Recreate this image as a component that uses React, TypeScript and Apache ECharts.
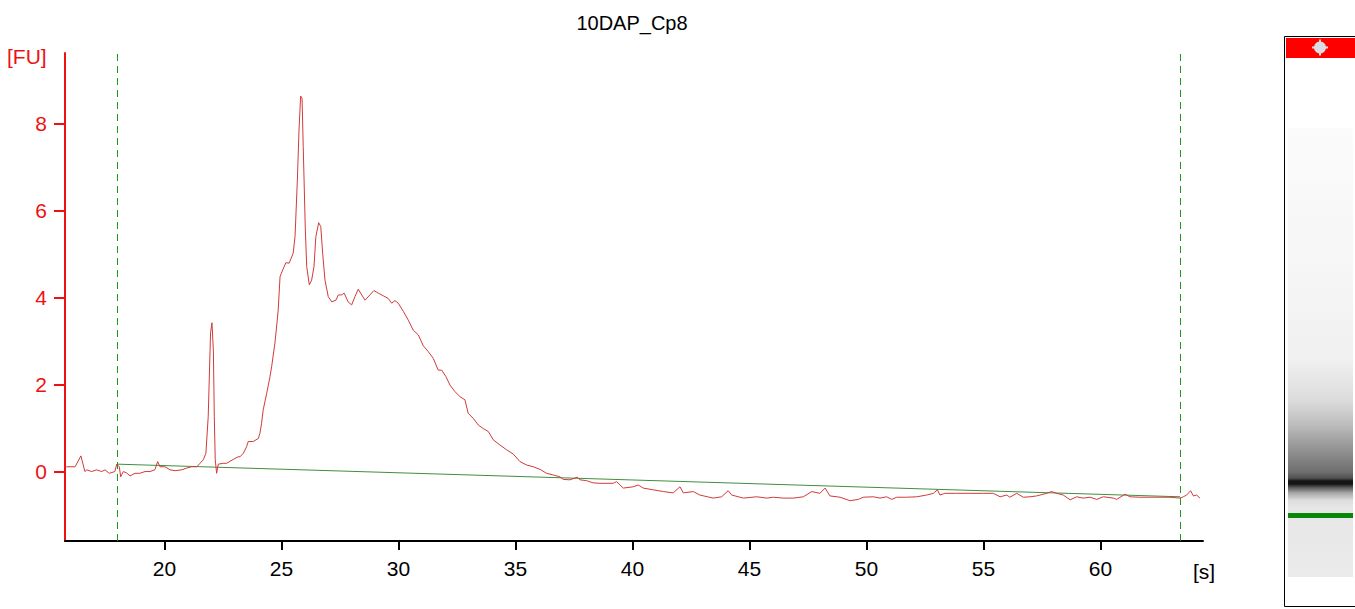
import React, { useEffect, useRef } from "react";
import * as echarts from "echarts";

// ---- Data ----
const times: number[] = [
  15.75, 15.82, 16.18, 16.43, 16.6, 16.68, 16.89, 17.1, 17.32, 17.46, 17.64, 17.88, 17.96, 18.07, 18.13,
  18.24, 18.38, 18.53, 18.74, 18.95, 19.17, 19.38, 19.59, 19.71, 19.81, 20.02, 20.24, 20.45, 20.74, 20.95,
  21.16, 21.38, 21.52, 21.66, 21.77, 21.87, 21.97, 22.03, 22.09, 22.13, 22.17, 22.23, 22.3, 22.51, 22.66,
  22.94, 23.15, 23.23, 23.37, 23.51, 23.58, 23.79, 24.01, 24.08, 24.15, 24.22, 24.37, 24.51, 24.58, 24.72,
  24.82, 24.86, 24.94, 25.05, 25.19, 25.33, 25.5, 25.58, 25.68, 25.75, 25.82, 25.88, 25.93, 26.02, 26.08,
  26.19, 26.29, 26.39, 26.47, 26.59, 26.68, 26.76, 26.86, 27.0, 27.15, 27.33, 27.43, 27.57, 27.68, 27.85,
  28.0, 28.14, 28.28, 28.43, 28.57, 28.78, 28.95, 29.14, 29.35, 29.56, 29.71, 29.85, 29.99, 30.21, 30.42,
  30.63, 30.85, 31.06, 31.27, 31.49, 31.7, 31.85, 32.03, 32.2, 32.41, 32.63, 32.84, 32.98, 33.2, 33.41,
  33.62, 33.84, 34.05, 34.34, 34.62, 34.91, 35.19, 35.48, 35.76, 36.05, 36.33, 36.62, 36.9, 37.04, 37.33,
  37.64, 37.76, 38.04, 38.32, 38.61, 39.18, 39.32, 39.61, 40.03, 40.25, 40.46, 40.89, 41.32, 41.74, 42.03,
  42.17, 42.6, 42.88, 43.45, 43.81, 44.09, 44.24, 44.74, 45.31, 45.74, 46.02, 46.44, 46.87, 47.3, 47.66,
  48.01, 48.23, 48.44, 48.87, 49.3, 49.65, 49.86, 50.29, 50.58, 50.86, 51.08, 51.29, 51.72, 52.15, 52.57,
  52.86, 53.03, 53.14, 53.35, 53.85, 54.42, 54.99, 55.42, 55.71, 55.99, 56.13, 56.42, 56.7, 56.99, 57.27,
  57.7, 57.91, 58.13, 58.41, 58.7, 58.98, 59.26, 59.55, 59.84, 60.12, 60.55, 60.69, 61.05, 61.26, 61.69,
  62.12, 62.54, 62.97, 63.4, 63.54, 63.68, 63.85, 63.97, 64.11, 64.25,
];

const fluorescence: number[] = [
  0.12, 0.12, 0.12, 0.37, 0.01, 0.05, 0.01, 0.05, 0.01, 0.05, -0.03, 0.01, 0.18, 0.12, -0.11,
  0.01, -0.02, -0.09, -0.03, -0.03, 0.01, 0.01, 0.05, 0.24, 0.12, 0.12, 0.05, 0.03, 0.05, 0.09,
  0.12, 0.12, 0.2, 0.28, 0.43, 1.27, 3.2, 3.43, 2.8, 1.27, 0.28, -0.03, 0.18, 0.2, 0.2,
  0.29, 0.35, 0.35, 0.43, 0.58, 0.7, 0.7, 0.77, 0.89, 1.12, 1.43, 1.81, 2.19, 2.42, 2.96,
  3.49, 3.72, 4.49, 4.64, 4.81, 4.8, 5.03, 5.41, 6.71, 7.86, 8.64, 8.59, 7.48, 5.56, 4.72,
  4.3, 4.41, 4.72, 5.41, 5.73, 5.64, 5.03, 4.41, 4.03, 3.91, 3.95, 4.07, 4.07, 4.11, 3.91,
  3.84, 4.03, 4.2, 4.07, 3.95, 4.07, 4.17, 4.11, 4.05, 3.99, 3.88, 3.94, 3.88, 3.69, 3.49,
  3.26, 3.15, 2.9, 2.77, 2.61, 2.34, 2.34, 2.19, 2.0, 1.85, 1.73, 1.66, 1.35, 1.23, 1.08,
  1.0, 0.93, 0.74, 0.62, 0.51, 0.41, 0.24, 0.16, 0.12, 0.06, -0.03, -0.07, -0.11, -0.17, -0.18,
  -0.12, -0.18, -0.2, -0.25, -0.26, -0.26, -0.22, -0.37, -0.34, -0.3, -0.37, -0.41, -0.45, -0.48, -0.34,
  -0.48, -0.45, -0.53, -0.6, -0.57, -0.43, -0.53, -0.6, -0.57, -0.6, -0.58, -0.6, -0.6, -0.57, -0.45,
  -0.49, -0.37, -0.55, -0.58, -0.66, -0.63, -0.58, -0.57, -0.6, -0.57, -0.63, -0.58, -0.58, -0.57, -0.53,
  -0.49, -0.41, -0.53, -0.49, -0.49, -0.49, -0.49, -0.49, -0.57, -0.53, -0.58, -0.49, -0.58, -0.57, -0.55,
  -0.49, -0.45, -0.49, -0.53, -0.64, -0.57, -0.6, -0.58, -0.63, -0.57, -0.6, -0.63, -0.51, -0.57, -0.58,
  -0.58, -0.58, -0.58, -0.6, -0.57, -0.53, -0.43, -0.55, -0.53, -0.6,
];

const baselineTimes: number[] = [18.0, 63.4];
const baselineValues: number[] = [0.18, -0.57];
const markerTimes: number[] = [17.993, 63.418];

const xTicks: number[] = [20, 25, 30, 35, 40, 45, 50, 55, 60];
const yTicks: number[] = [0, 2, 4, 6, 8];

const X_MIN = 15.75;
const X_MAX = 64.38;
const Y_MIN = -1.586;
const Y_MAX = 9.63;

const titleText = "10DAP_Cp8";
const yUnit = "[FU]";
const xUnit = "[s]";

const FONT = "'Liberation Sans', Arial, sans-serif";

export default function App() {
  const ref = useRef<HTMLDivElement>(null);

  useEffect(() => {
    if (!ref.current) return;
    const chart = echarts.init(ref.current, undefined, { renderer: "svg" });

    // gel lane gradient: y 128 -> 577
    const gelGradient = new echarts.graphic.LinearGradient(0, 0, 0, 1, [
      { offset: 0, color: "#fbfbfb" },
      { offset: 0.3, color: "#f6f6f6" },
      { offset: 0.517, color: "#f0f0f0" },
      { offset: 0.606, color: "#dcdcdc" },
      { offset: 0.661, color: "#bdbdbd" },
      { offset: 0.706, color: "#9a9a9a" },
      { offset: 0.739, color: "#828282" },
      { offset: 0.766, color: "#6e6e6e" },
      { offset: 0.78, color: "#505050" },
      { offset: 0.786, color: "#151515" },
      { offset: 0.793, color: "#151515" },
      { offset: 0.8, color: "#555555" },
      { offset: 0.813, color: "#a8a8a8" },
      { offset: 0.829, color: "#dcdcdc" },
      { offset: 0.846, color: "#e6e6e6" },
      { offset: 1, color: "#ebebeb" },
    ]);

    const markerSeries = markerTimes.map((t) => ({
      type: "line",
      name: "marker",
      data: [
        [t, Y_MIN],
        [t, Y_MAX],
      ],
      showSymbol: false,
      symbol: "none",
      silent: true,
      lineStyle: { color: "#1e961e", width: 1, type: [7, 5] },
      z: 1,
    }));

    chart.setOption({
      animation: false,
      backgroundColor: "#ffffff",
      title: {
        text: titleText,
        left: 627,
        top: 8,
        textAlign: "center",
        textStyle: { fontFamily: FONT, fontSize: 20, fontWeight: "normal", color: "#000" },
      },
      grid: { left: 65, top: 53, width: 1138, height: 488, containLabel: false },
      xAxis: {
        type: "value",
        min: X_MIN,
        max: X_MAX,
        axisLine: { show: true, onZero: false, lineStyle: { color: "#000", width: 2 } },
        axisTick: { show: true, customValues: xTicks, length: 9, lineStyle: { color: "#000", width: 2 } },
        axisLabel: {
          customValues: xTicks,
          margin: 17,
          fontFamily: FONT,
          fontSize: 21,
          color: "#000",
        },
        splitLine: { show: false },
      },
      yAxis: {
        type: "value",
        min: Y_MIN,
        max: Y_MAX,
        axisLine: { show: true, onZero: false, lineStyle: { color: "#ee1111", width: 2 } },
        axisTick: { show: true, customValues: yTicks, length: 11, lineStyle: { color: "#ee1111", width: 2 } },
        axisLabel: {
          customValues: yTicks,
          margin: 18,
          fontFamily: FONT,
          fontSize: 21,
          color: "#ee1111",
        },
        splitLine: { show: false },
      },
      series: [
        ...markerSeries,
        {
          type: "line",
          name: "baseline",
          data: baselineTimes.map((t, i) => [t, baselineValues[i]]),
          showSymbol: false,
          symbol: "none",
          lineStyle: { color: "#3f8f3f", width: 1 },
          z: 2,
        },
        {
          type: "line",
          name: "signal",
          data: times.map((t, i) => [t, fluorescence[i]]),
          showSymbol: false,
          symbol: "none",
          lineStyle: { color: "#d23a3a", width: 1 },
          z: 3,
        },
      ],
      graphic: [
        { type: "text", left: 7, top: 46, style: { text: yUnit, fontFamily: FONT, fontSize: 21, fill: "#ee1111" } },
        { type: "text", left: 1193, top: 561, style: { text: xUnit, fontFamily: FONT, fontSize: 21, fill: "#000" } },
        {
          type: "rect",
          shape: { x: 1284.5, y: 36.5, width: 90, height: 570 },
          style: { fill: "#ffffff", stroke: "#000000", lineWidth: 1 },
        },
        { type: "rect", shape: { x: 1286, y: 38, width: 69, height: 20 }, style: { fill: "#ff0000" } },
        { type: "circle", shape: { cx: 1320, cy: 47.5, r: 6 }, style: { fill: "#dcdce4" } },
        { type: "rect", shape: { x: 1312, y: 46.5, width: 16, height: 2 }, style: { fill: "#dcdce4" } },
        { type: "rect", shape: { x: 1319, y: 39.5, width: 2, height: 16 }, style: { fill: "#dcdce4" } },
        { type: "rect", shape: { x: 1288, y: 128, width: 65, height: 449 }, style: { fill: gelGradient } },
        { type: "rect", shape: { x: 1288, y: 513, width: 65, height: 5 }, style: { fill: "#0a870a" } },
      ],
    });

    return () => chart.dispose();
  }, []);

  return (
    <div
      ref={ref}
      style={{ position: "fixed", left: 0, top: 0, width: 1355, height: 609, background: "#fff" }}
    />
  );
}
